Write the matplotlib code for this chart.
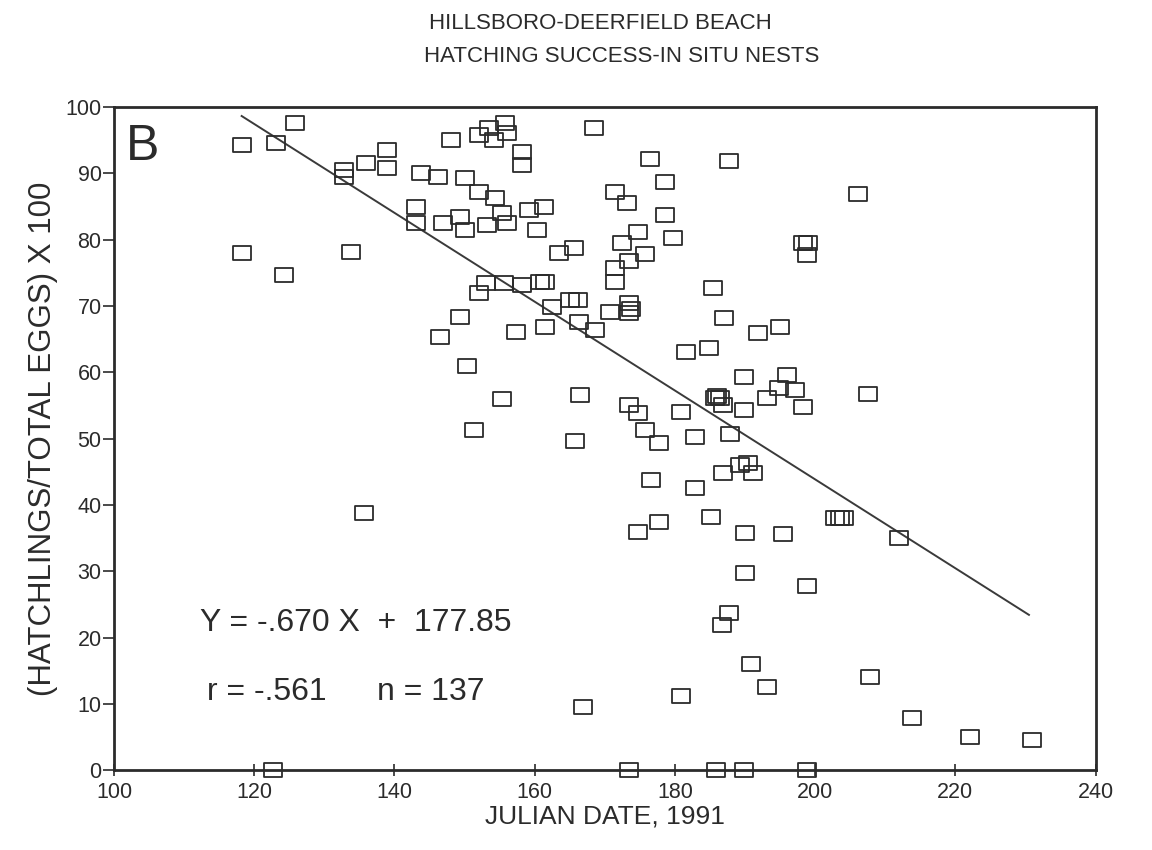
import numpy as np
import matplotlib
matplotlib.use("Agg")
import matplotlib.pyplot as plt
from matplotlib.path import Path

plt.rcParams['font.family'] = ['Liberation Sans', 'DejaVu Sans']

# Julian date and hatching success (%) of each in situ nest
julian_day = [
    118.2, 123.1, 125.8, 132.8, 132.8, 118.2, 124.2, 133.8,
    135.9, 138.9, 138.9, 148.0, 152.1, 153.5, 154.2, 155.8, 156.1, 158.2, 158.2,
    143.8, 146.2, 150.1, 152.1, 154.4, 143.1, 143.1, 146.9, 149.3, 150.1, 153.2,
    155.4, 156.1, 159.2, 161.3, 160.3, 163.5, 165.6, 153.0, 152.1, 155.6, 158.2,
    160.7, 161.5, 162.4, 165.0, 166.2, 166.3, 161.5, 157.3, 149.3, 146.5,
    168.5, 176.5, 187.7, 206.1, 178.6, 171.4, 173.2, 178.6, 179.7, 174.7, 172.5,
    175.7, 173.5, 171.4, 171.4, 198.3, 199.0, 198.8, 185.5, 187.0, 191.8, 195.0,
    168.6, 170.8, 173.5, 173.5, 173.8,
    135.7, 150.4, 151.4, 155.4, 166.5, 165.8, 173.5, 174.7, 175.7, 177.8, 180.9,
    182.9, 181.6, 184.8, 189.8, 185.7, 186.5, 186.8, 189.8, 193.2, 187.9, 186.8,
    189.3, 190.4, 191.1, 176.6, 182.9, 185.1, 174.8, 177.8, 190.0, 190.0,
    196.0, 194.9, 197.1, 198.3, 207.5, 202.9, 204.1, 195.4, 211.9,
    198.9, 187.7, 186.7, 190.8, 193.2, 207.8, 180.9, 166.9, 213.8, 222.1, 230.9,
    122.7, 173.5, 185.8, 189.8, 198.8, 203.5, 186.0,
]
hatch_pct = [
    94.3, 94.6, 97.6, 89.5, 90.5, 78.0, 74.7, 78.1,
    91.6, 93.5, 90.8, 95.0, 95.8, 96.8, 95.0, 97.6, 96.1, 93.2, 91.2,
    90.0, 89.4, 89.3, 87.2, 86.3, 84.9, 82.5, 82.5, 83.4, 81.4, 82.2,
    84.0, 82.5, 84.5, 84.9, 81.4, 78.0, 78.7, 73.4, 71.9, 73.4, 73.2,
    73.6, 73.6, 69.8, 70.9, 70.9, 67.6, 66.8, 66.1, 68.3, 65.3,
    96.8, 92.2, 91.9, 86.9, 88.7, 87.2, 85.5, 83.7, 80.2, 81.1, 79.5,
    77.8, 76.8, 75.7, 73.6, 79.5, 79.5, 77.7, 72.7, 68.2, 65.9, 66.8,
    66.4, 69.1, 70.4, 68.9, 69.6,
    38.8, 60.9, 51.3, 56.0, 56.6, 49.6, 55.1, 53.8, 51.3, 49.3, 54.0,
    50.2, 63.0, 63.6, 59.3, 56.1, 56.1, 55.1, 54.3, 56.1, 50.7, 44.8,
    46.0, 46.3, 44.8, 43.7, 42.5, 38.2, 35.9, 37.4, 35.7, 29.7,
    59.6, 57.6, 57.3, 54.8, 56.7, 38.0, 38.0, 35.6, 35.0,
    27.8, 23.7, 21.9, 16.0, 12.5, 14.0, 11.2, 9.5, 7.8, 5.0, 4.5,
    0.0, 0.0, 0.0, 0.0, 0.0, 38.0, 56.5,
]

# fitted regression
slope = -0.670
intercept = 177.85
fit_range = [118.2, 230.5]

x_ticks = [100, 120, 140, 160, 180, 200, 220, 240]
y_ticks = [0, 10, 20, 30, 40, 50, 60, 70, 80, 90, 100]

ink = '#2b2b2b'

# open rectangle marker, a little wider than tall
box = Path([(-1.3, -1.0), (1.3, -1.0), (1.3, 1.0), (-1.3, 1.0), (-1.3, -1.0)],
           [Path.MOVETO, Path.LINETO, Path.LINETO, Path.LINETO, Path.CLOSEPOLY])

fig = plt.figure(figsize=(11.52, 8.5), dpi=100)
ax = fig.add_axes([0.099, 0.094, 0.852, 0.780])

ax.plot(julian_day, hatch_pct, linestyle='none', marker=box, markersize=12.5,
        markerfacecolor='none', markeredgecolor=ink, markeredgewidth=1.3,
        clip_on=False, zorder=3)

fx = np.array(fit_range)
ax.plot(fx, slope * fx + intercept, color='#3a3a3a', linewidth=1.4, zorder=2)

ax.set_xlim(100, 240)
ax.set_ylim(0, 100)
ax.set_xticks(x_ticks)
ax.set_yticks(y_ticks)
ax.tick_params(axis='x', direction='inout', length=9, width=1.2, colors=ink,
               labelsize=15.5, pad=4)
ax.tick_params(axis='y', direction='out', length=8, width=1.2, colors=ink,
               labelsize=15.5, pad=1)
for s in ax.spines.values():
    s.set_linewidth(2.0)
    s.set_color(ink)

ax.set_xlabel('JULIAN DATE, 1991', fontsize=19, color=ink, labelpad=1)
ax.set_ylabel('(HATCHLINGS/TOTAL EGGS) X 100', fontsize=22.5, color=ink, labelpad=5)

fig.text(0.521, 0.972, 'HILLSBORO-DEERFIELD BEACH', ha='center', va='center',
         fontsize=16, color=ink)
fig.text(0.540, 0.934, 'HATCHING SUCCESS-IN SITU NESTS', ha='center', va='center',
         fontsize=16, color=ink)

ax.text(0.012, 0.975, 'B', transform=ax.transAxes, ha='left', va='top',
        fontsize=36, color=ink)
ax.text(0.088, 0.222, 'Y = -.670 X  +  177.85', transform=ax.transAxes,
        ha='left', va='center', fontsize=23, color=ink)
ax.text(0.095, 0.118, 'r = -.561', transform=ax.transAxes,
        ha='left', va='center', fontsize=23, color=ink)
ax.text(0.268, 0.118, 'n = 137', transform=ax.transAxes,
        ha='left', va='center', fontsize=23, color=ink)

fig.savefig('out.png', dpi=100, facecolor='white')
